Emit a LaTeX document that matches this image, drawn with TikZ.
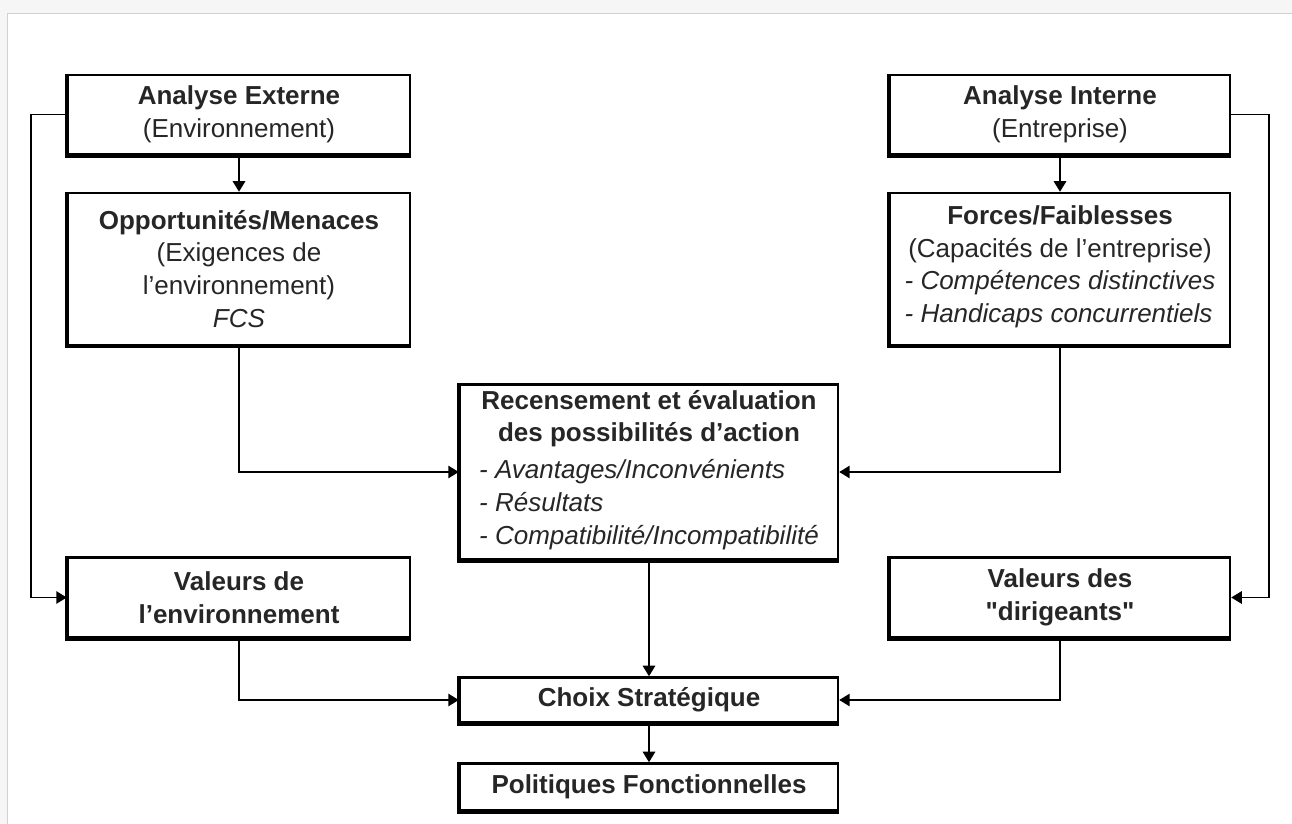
\documentclass[tikz,border=0pt]{standalone}
\usepackage{fontspec}
\setmainfont{Liberation Sans}
\usetikzlibrary{arrows.meta}

\begin{document}
\begin{tikzpicture}[x=0.02cm, y=-0.02cm, >={Triangle[length=6pt,width=7pt]},
    box/.style={draw, line width=1.4pt, fill=white, inner sep=0pt, align=center,
        text=black!85, font=\fontsize{14.8}{18.7}\selectfont,
        execute at begin node={\vspace*{6pt}}},
    link/.style={->, line width=1.1pt}]

    % cadre
    \useasboundingbox (0,0) rectangle (1292,824);
    \fill[gray!7] (0,0) rectangle (1292,824);
    \filldraw[fill=white, draw=gray!35] (7,13) rectangle (1300,830);

    % colonne gauche
    \node[box, minimum width=6.84cm, minimum height=1.58cm] (ae) at (239,114.5)
        {\textbf{Analyse Externe}\\(Environnement)};
    \node[box, minimum width=6.84cm, minimum height=3.04cm] (om) at (239,269)
        {\textbf{Opportunités/Menaces}\\(Exigences de\\l'environnement)\\\textit{FCS}};
    \node[box, minimum width=6.84cm, minimum height=1.6cm] (venv) at (239,597.5)
        {\textbf{Valeurs de}\\\textbf{l'environnement}};

    % colonne droite
    \node[box, minimum width=6.8cm, minimum height=1.58cm] (ai) at (1060,114.5)
        {\textbf{Analyse Interne}\\(Entreprise)};
    \node[box, minimum width=6.8cm, minimum height=3.04cm] (ff) at (1060,269)
        {\textbf{Forces/Faiblesses}\\(Capacités de l'entreprise)\\
         \begin{tabular}[t]{@{}l@{}}\textit{- Compétences distinctives}\\\textit{- Handicaps concurrentiels}\end{tabular}};
    \node[box, minimum width=6.8cm, minimum height=1.6cm] (vdir) at (1060,597.5)
        {\textbf{Valeurs des}\\\textbf{\textquotedbl dirigeants\textquotedbl}};

    % colonne centrale
    \node[box, minimum width=7.56cm, minimum height=3.5cm] (rec) at (649,472)
        {\textbf{Recensement et évaluation}\\\textbf{des possibilités d'action}\\[2pt]
         \begin{tabular}[t]{@{}l@{}}\textit{- Avantages/Inconvénients}\\\textit{- Résultats}\\\textit{- Compatibilité/Incompatibilité}\end{tabular}};
    \node[box, minimum width=7.56cm, minimum height=0.9cm] (choix) at (649,700)
        {\textbf{Choix Stratégique}};
    \node[box, minimum width=7.56cm, minimum height=0.94cm] (pol) at (649,787)
        {\textbf{Politiques Fonctionnelles}};

    % bords épais
    \foreach \n in {ae,om,venv,ai,ff,vdir,rec,choix,pol}
        \draw[line width=2.6pt] (\n.north west) |- (\n.south east);

    % flèches
    \draw[link] (ae) -- (om);
    \draw[link] (ai) -- (ff);
    \draw[link] (ae.west) -- ++(-36,0) |- (venv.west);
    \draw[link] (ai.east) -- ++(38,0) |- (vdir.east);
    \draw[link] (om.south) |- (rec.west);
    \draw[link] (ff.south) |- (rec.east);
    \draw[link] (rec) -- (choix);
    \draw[link] (venv.south) |- (choix.west);
    \draw[link] (vdir.south) |- (choix.east);
    \draw[link] (choix) -- (pol);
\end{tikzpicture}
\end{document}
